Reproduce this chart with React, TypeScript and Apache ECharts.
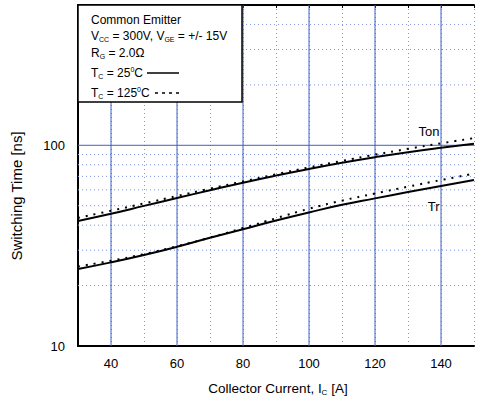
import React, { useEffect, useRef } from "react";
import * as echarts from "echarts";

const currents = [30, 40, 50, 60, 70, 80, 90, 100, 110, 120, 130, 140, 150];
const tonT25 = [42.0, 45.6, 49.9, 54.6, 59.7, 65.1, 70.6, 76.2, 81.8, 87.2, 92.4, 97.2, 101.7];
const tonT125 = [43.5, 47.2, 51.3, 55.9, 60.8, 66.1, 71.7, 77.6, 83.6, 89.8, 96.0, 102.3, 108.6];
const trT25 = [24.2, 26.1, 28.4, 31.2, 34.6, 38.2, 42.2, 46.3, 50.5, 54.4, 58.5, 62.7, 67.1];
const trT125 = [24.9, 26.6, 28.7, 31.4, 34.7, 38.7, 43.3, 48.3, 53.0, 57.5, 62.2, 67.1, 72.2];

const xRange = [30, 150];
const yRange = [10, 500];
const xMajorLines = [40, 60, 80, 100, 120, 140];
const yMajorLines = [100];
const yMinorLines = [20, 30, 40, 50, 60, 70, 80, 90, 200, 300, 400];
const xLabelTicks = [40, 60, 80, 100, 120, 140];

const FONT = "'Liberation Sans', Arial, sans-serif";
const SOLID_BLUE = "#4060c0";
const DOT_BLUE = "#7f96dc";

export default function App() {
  const ref = useRef<HTMLDivElement>(null);
  useEffect(() => {
    if (!ref.current) return;
    const chart = echarts.init(ref.current, undefined, { renderer: "svg" });
    const pair = (ys: number[]) => currents.map((x, i) => [x, ys[i]]);
    const rich = {
      n: { fontSize: 12, fontFamily: FONT, color: "#000", lineHeight: 14, verticalAlign: "middle" },
      s: { fontSize: 7, fontFamily: FONT, color: "#000", verticalAlign: "bottom" },
      p: { fontSize: 7, fontFamily: FONT, color: "#000", verticalAlign: "top" },
    };
    const legendLines = [
      "{n|Common Emitter}",
      "{n|V}{s|CC}{n| = 300V, V}{s|GE}{n| = +/- 15V}",
      "{n|R}{s|G}{n| = 2.0Ω}",
      "{n|T}{s|C}{n| = 25}{p|0}{n|C}",
      "{n|T}{s|C}{n| = 125}{p|0}{n|C}",
    ];
    const legendY = [20, 36, 52.5, 72.5, 92.5];
    const curve = (name: string, ys: number[], dotted: boolean) => ({
      type: "line",
      name,
      data: pair(ys),
      smooth: true,
      symbol: "none",
      z: 3,
      lineStyle: dotted ? { color: "#000", width: 2, type: [2, 6] } : { color: "#000", width: 2 },
    });
    const gridSeries = (data: number[][], color: string, type: any) => ({
      type: "line",
      data,
      symbol: "none",
      silent: true,
      z: 1,
      lineStyle: { color, width: 1, type },
    });
    const option: any = {
      animation: false,
      backgroundColor: "#fff",
      grid: { left: 78, top: 5, right: -4, bottom: 58, containLabel: false },
      xAxis: [
        {
          type: "value",
          min: xRange[0],
          max: xRange[1],
          interval: 10,
          position: "bottom",
          axisLine: { show: true, onZero: false, lineStyle: { color: "#000", width: 2 } },
          axisTick: { show: false },
          axisLabel: {
            margin: 11,
            fontSize: 13,
            fontFamily: FONT,
            color: "#000",
            formatter: (v: number) => (xLabelTicks.includes(Math.round(v)) ? String(Math.round(v)) : ""),
          },
          splitLine: { show: true, lineStyle: { color: DOT_BLUE, width: 1, type: [1, 3] } },
        },
        {
          type: "value",
          min: xRange[0],
          max: xRange[1],
          interval: 10,
          position: "top",
          axisLine: { show: true, onZero: false, lineStyle: { color: "#000", width: 2 } },
          axisTick: { show: true, inside: true, length: 3, lineStyle: { color: "#000", width: 1 } },
          axisLabel: { show: false },
          splitLine: { show: false },
        },
      ],
      yAxis: {
        type: "log",
        logBase: 10,
        min: yRange[0],
        max: yRange[1],
        axisLine: { show: true, onZero: false, lineStyle: { color: "#000", width: 2 } },
        axisTick: { show: false },
        minorTick: { show: false },
        axisLabel: {
          margin: 13,
          fontSize: 13,
          fontFamily: FONT,
          color: "#000",
          showMaxLabel: false,
          formatter: (v: number) => {
            const l = Math.log10(v);
            return Math.abs(l - Math.round(l)) < 1e-6 && v < 400 ? String(Math.round(v)) : "";
          },
        },
        splitLine: { show: false },
      },
      series: [
        ...yMinorLines.map((y) => gridSeries([[xRange[0], y], [xRange[1], y]], DOT_BLUE, [1, 3])),
        ...xMajorLines.map((x) => gridSeries([[x, yRange[0]], [x, yRange[1]]], SOLID_BLUE, "solid")),
        ...yMajorLines.map((y) => gridSeries([[xRange[0], y], [xRange[1], y]], SOLID_BLUE, "solid")),
        curve("Ton 25°C", tonT25, false),
        curve("Ton 125°C", tonT125, true),
        curve("Tr 25°C", trT25, false),
        curve("Tr 125°C", trT125, true),
      ],
      graphic: [
        {
          type: "rect",
          z: 100,
          shape: { x: 78, y: 5, width: 164, height: 97 },
          style: { fill: "#fff", stroke: "#000", lineWidth: 1.5 },
        },
        ...legendLines.map((t, i) => ({
          type: "text",
          z: 101,
          x: 91,
          y: legendY[i],
          style: { text: t, rich, align: "left", verticalAlign: "middle" },
        })),
        {
          type: "line",
          z: 101,
          shape: { x1: 147, y1: 73, x2: 179, y2: 73 },
          style: { stroke: "#000", lineWidth: 1.5 },
        },
        {
          type: "line",
          z: 101,
          shape: { x1: 155, y1: 93, x2: 181, y2: 93 },
          style: { stroke: "#000", lineWidth: 1.5, lineDash: [3, 4] },
        },
        {
          type: "text",
          z: 101,
          x: 439.5,
          y: 131,
          style: { text: "Ton", fontSize: 13, fontFamily: FONT, fill: "#000", align: "right", verticalAlign: "middle" },
        },
        {
          type: "text",
          z: 101,
          x: 439.5,
          y: 206,
          style: { text: "Tr", fontSize: 13, fontFamily: FONT, fill: "#000", align: "right", verticalAlign: "middle" },
        },
        {
          type: "text",
          z: 101,
          x: 16,
          y: 196,
          rotation: Math.PI / 2,
          style: {
            text: "Switching Time [ns]",
            fontSize: 15,
            fontFamily: FONT,
            fill: "#000",
            align: "center",
            verticalAlign: "middle",
          },
        },
        {
          type: "text",
          z: 101,
          x: 278,
          y: 388,
          style: {
            text: "{t|Collector Current, I}{u|C}{t| [A]}",
            rich: {
              t: { fontSize: 13.5, fontFamily: FONT, color: "#000", lineHeight: 16, verticalAlign: "middle" },
              u: { fontSize: 8, fontFamily: FONT, color: "#000", verticalAlign: "bottom" },
            },
            align: "center",
            verticalAlign: "middle",
          },
        },
      ],
    };
    chart.setOption(option);
    return () => chart.dispose();
  }, []);
  return (
    <div
      ref={ref}
      style={{ position: "fixed", left: 0, top: 0, width: 477, height: 404, background: "#fff" }}
    />
  );
}
